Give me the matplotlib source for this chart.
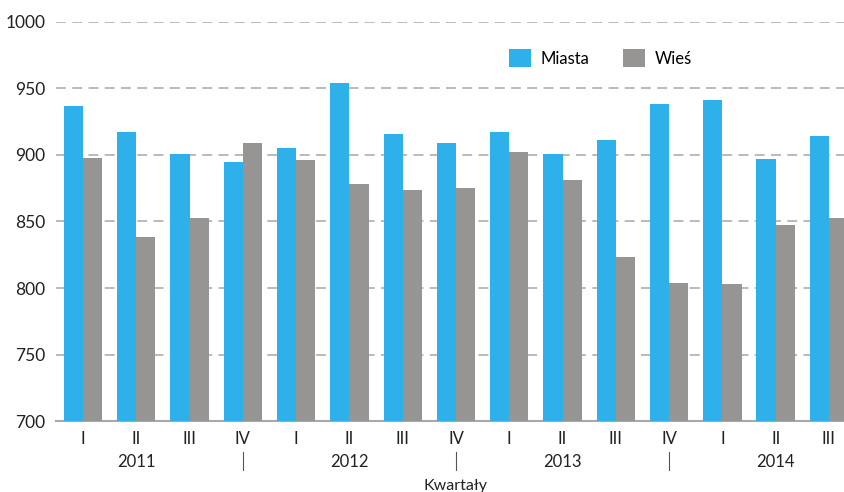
import numpy as np
import matplotlib
matplotlib.use("Agg")
import matplotlib.pyplot as plt
import matplotlib.transforms as mtransforms

plt.rcParams['font.family'] = ['Lato', 'DejaVu Sans']

kwartaly = ["I", "II", "III", "IV", "I", "II", "III", "IV",
            "I", "II", "III", "IV", "I", "II", "III"]
lata = ["2011", "2012", "2013", "2014"]
miasta = [937, 917, 901, 895, 905, 954, 916, 909, 917, 901, 911, 938, 941, 897, 914]
wies = [898, 838, 853, 909, 896, 878, 874, 875, 902, 881, 823, 804, 803, 847, 853]

niebieski = "#2EB0EA"
szary = "#969594"

fig = plt.figure(figsize=(8.45, 4.92), dpi=100)
ax = fig.add_axes([0.0667, 0.1443, 0.9458, 0.811])

x = np.arange(len(kwartaly))
w = 0.36
ax.bar(x - w / 2, miasta, w, color=niebieski, label="Miasta", zorder=3)
ax.bar(x + w / 2, wies, w, color=szary, label="Wieś", zorder=3)

ax.set_ylim(700, 1000)
ax.set_xlim(-0.5, len(kwartaly) - 0.5)
ax.set_yticks([700, 750, 800, 850, 900, 950, 1000])
ax.yaxis.grid(True, linestyle=(0, (5.5, 3.5)), color="#B4B4B4", linewidth=1.3, zorder=0)
ax.set_axisbelow(True)

for s in ["top", "right", "left"]:
    ax.spines[s].set_visible(False)
ax.spines["bottom"].set_color("#A8A8A8")
ax.spines["bottom"].set_linewidth(1.5)

ax.set_xticks(x)
ax.set_xticklabels(kwartaly)
ax.tick_params(axis="x", length=0, pad=7, labelsize=12, colors="#222222")
ax.tick_params(axis="y", length=0, pad=8, labelsize=12.5, colors="#222222")

trans = mtransforms.blended_transform_factory(ax.transData, ax.transAxes)
# lata pod kwartalami (wysrodkowane na II) i separatory pod IV
for i, rok in enumerate(lata):
    ax.text(4 * i + 1, -0.103, rok, transform=trans, ha="center", va="center",
            fontsize=12, color="#222222")
for i in range(3):
    ax.plot([4 * i + 3, 4 * i + 3], [-0.078, -0.123], transform=trans,
            color="#555555", linewidth=0.8, clip_on=False)

ax.text(0.5 * (len(kwartaly) - 1), -0.164, "Kwartały", transform=trans,
        ha="center", va="center", fontsize=11.5, color="#222222")

ax.legend(loc="upper left", bbox_to_anchor=(0.548, 0.97), ncol=2, frameon=False,
          fontsize=12, handlelength=1.3, handleheight=1.3, columnspacing=2.0,
          handletextpad=0.6)

fig.savefig("out.png", dpi=100)
